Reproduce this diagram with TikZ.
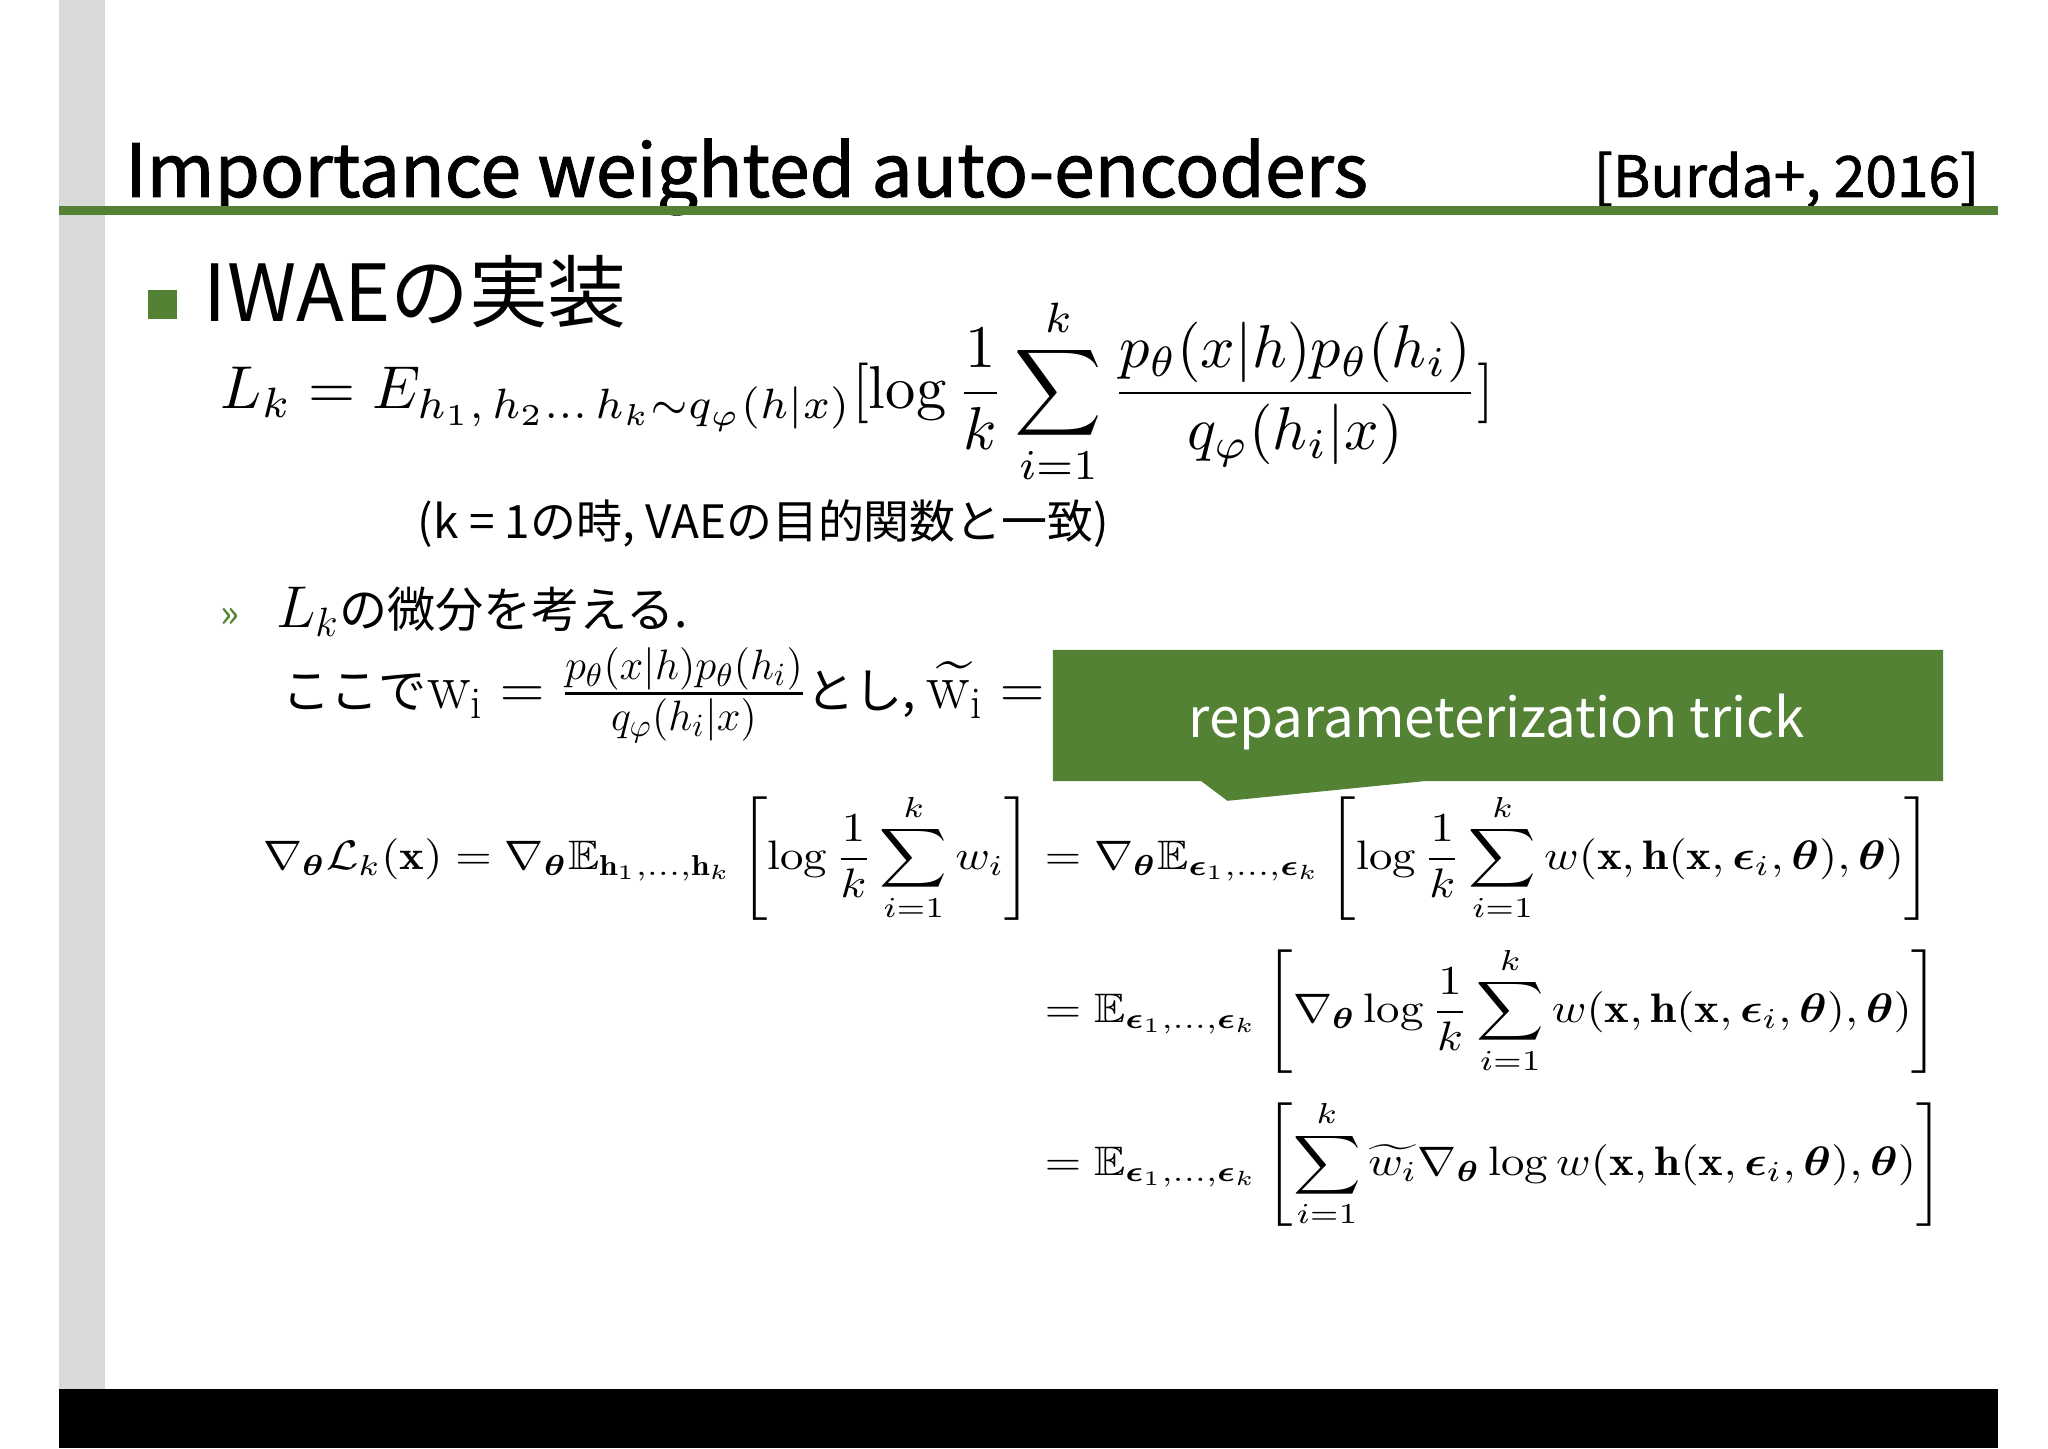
\documentclass[tikz,border=0pt]{standalone}
\usepackage{amsmath,amssymb,bm,graphicx}
\usepackage{fontspec}
\newfontfamily\jp{Noto Sans CJK JP}
\newfontfamily\jpm[FakeBold=1.3]{Noto Sans CJK JP}
\definecolor{gr}{HTML}{548235}
\definecolor{lg}{HTML}{D9D9D9}
\begin{document}
\begin{tikzpicture}[x=0.6pt,y=-0.6pt,
  txt/.style={anchor=base west,inner sep=0pt}]
\useasboundingbox (0,0) rectangle (1560,1103);
\fill[white] (0,0) rectangle (1560,1103);
\fill[lg] (45,0) rectangle (80,1058);
\fill[black] (45,1058) rectangle (1522,1103);
\node[txt] (title) at (95,150) {\jpm\fontsize{33.5}{38}\selectfont Importance weighted auto-encoders};
\node[anchor=base east,inner sep=0pt] (ref) at (1508,150) {\jpm\fontsize{26}{30}\selectfont [Burda+, 2016]};
\fill[gr] (45,157) rectangle (1522,164);
\fill[gr] (113,221) rectangle (135,243);
\node[txt] (h1) at (155,245) {\jp\fontsize{36}{42}\selectfont IWAEの実装};
\node[anchor=west,inner sep=0pt] (eq1) at (168,298) {\resizebox{582pt}{!}{$\displaystyle L_k=E_{h_1,\,h_2\ldots\,h_k\sim q_\varphi(h|x)}[\log\frac{1}{k}\sum_{i=1}^{k}\frac{p_\theta(x|h)p_\theta(h_i)}{q_\varphi(h_i|x)}]$}};
\node[txt] (note) at (318,410) {\jp\fontsize{21}{24}\selectfont (k = 1の時, VAEの目的関数と一致)};
\node[txt,text=gr] (ch) at (168,478) {\jp\fontsize{18}{22}\selectfont »};
\node[txt] (l2) at (210,478) {\jp\fontsize{22}{26}\selectfont \scalebox{1.3}{$L_k$}の微分を考える.};
\node[txt] (l3) at (215,540) {\jp\fontsize{22}{26}\selectfont ここで\scalebox{1.35}{$\mathrm{w_i}=\frac{p_\theta(x|h)p_\theta(h_i)}{q_\varphi(h_i|x)}$}とし, \scalebox{1.35}{$\widetilde{\mathrm{w_i}}=$}};
\node[anchor=north west,inner sep=0pt] (grad) at (200,604) {\scalebox{1}[0.88]{\resizebox{768pt}{!}{$\begin{aligned}
\nabla_{\bm\theta}\mathcal{L}_k(\mathbf{x})=\nabla_{\bm\theta}\mathbb{E}_{\mathbf{h}_1,\ldots,\mathbf{h}_k}\left[\log\frac{1}{k}\sum_{i=1}^{k}w_i\right]
&=\nabla_{\bm\theta}\mathbb{E}_{\bm\epsilon_1,\ldots,\bm\epsilon_k}\left[\log\frac{1}{k}\sum_{i=1}^{k}w(\mathbf{x},\mathbf{h}(\mathbf{x},\bm\epsilon_i,\bm\theta),\bm\theta)\right]\\[2pt]
&=\mathbb{E}_{\bm\epsilon_1,\ldots,\bm\epsilon_k}\left[\nabla_{\bm\theta}\log\frac{1}{k}\sum_{i=1}^{k}w(\mathbf{x},\mathbf{h}(\mathbf{x},\bm\epsilon_i,\bm\theta),\bm\theta)\right]\\[2pt]
&=\mathbb{E}_{\bm\epsilon_1,\ldots,\bm\epsilon_k}\left[\sum_{i=1}^{k}\widetilde{w_i}\nabla_{\bm\theta}\log w(\mathbf{x},\mathbf{h}(\mathbf{x},\bm\epsilon_i,\bm\theta),\bm\theta)\right]
\end{aligned}$}}};
\fill[gr] (802,495) -- (1480,495) -- (1480,595) -- (1085,595) -- (935,610) -- (915,595) -- (802,595) -- cycle;
\node[inner sep=0pt,text=white] (rt) at (1140,550) {\jp\fontsize{25}{30}\selectfont reparameterization trick};
\end{tikzpicture}
\end{document}
